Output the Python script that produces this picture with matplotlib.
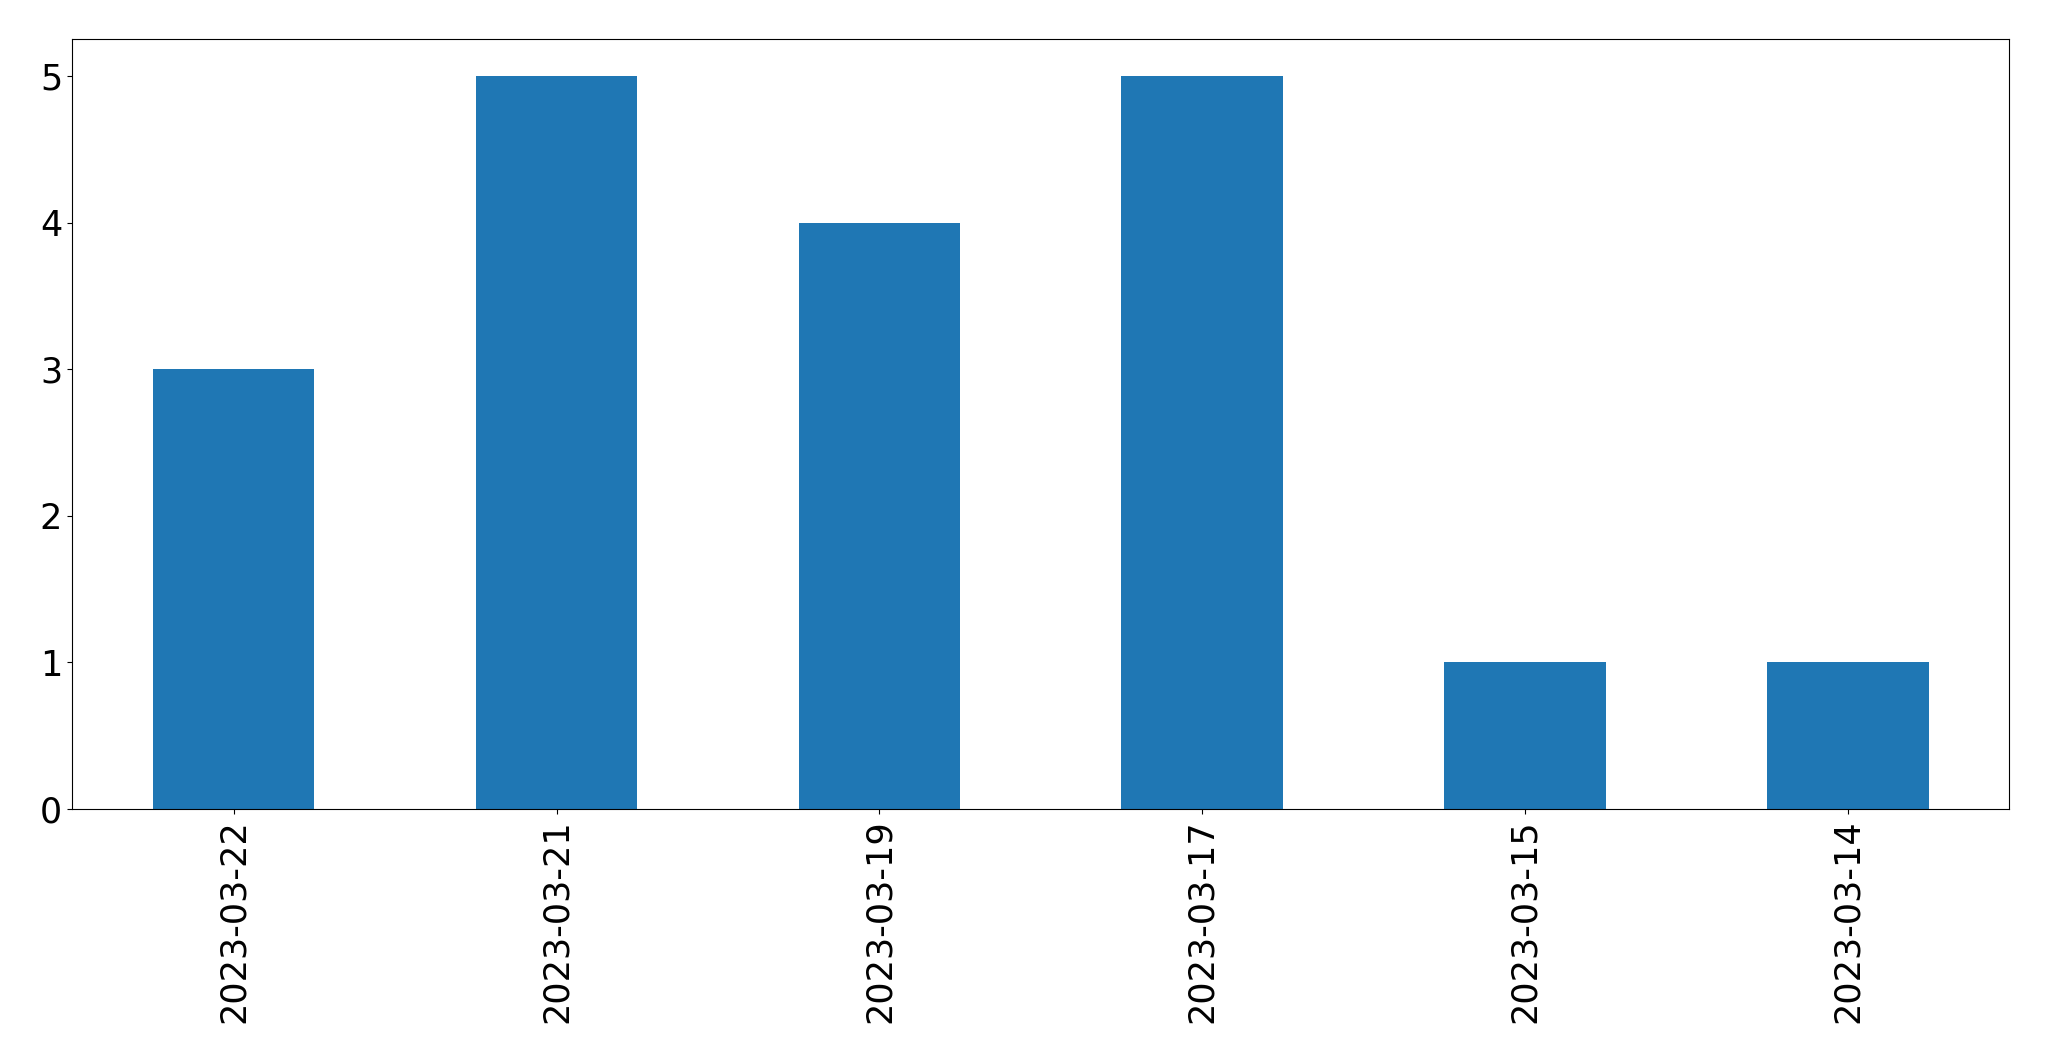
import matplotlib
matplotlib.use("Agg")
import matplotlib.pyplot as plt
import numpy as np

# Données
dates = ["2023-03-22", "2023-03-21", "2023-03-19", "2023-03-17", "2023-03-15", "2023-03-14"]
comptes = [3, 5, 4, 5, 1, 1]

fig = plt.figure(figsize=(20.49, 10.61), dpi=100)
ax = fig.add_axes([0.0353, 0.2375, 0.9453, 0.7255])

x = np.arange(len(dates))
ax.bar(x, comptes, width=0.5, color="#1f77b4")
ax.set_xlim(-0.5, len(dates) - 0.5)
ax.set_ylim(0, 5.25)
ax.set_xticks(x)
ax.set_xticklabels(dates, rotation=90)
ax.set_yticks(range(0, 6))
ax.tick_params(axis="both", labelsize=25.2, length=3.8)

fig.savefig("out.png", dpi=100)
